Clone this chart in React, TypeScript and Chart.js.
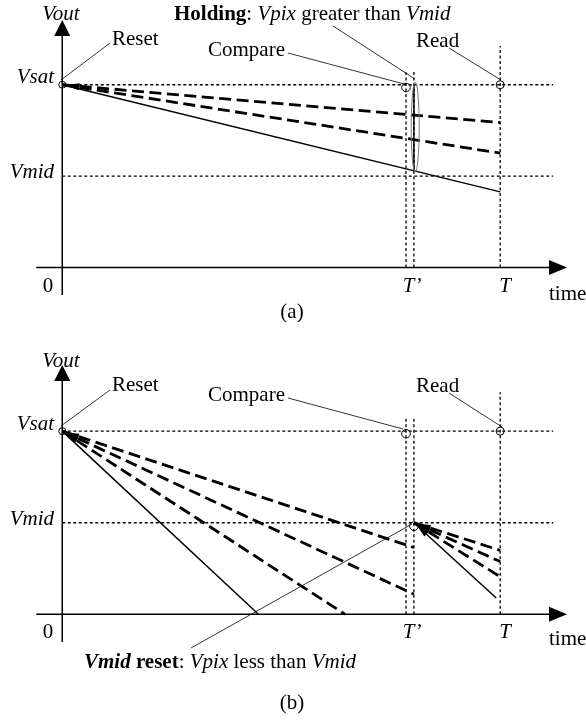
import React, { useEffect, useRef } from "react";
import { Chart, registerables } from "chart.js";
Chart.register(...registerables);

// ---------------- data (time in units of T, voltage in units of Vsat) ----------------
const timeTicks = [0, 0.785, 1]; // 0, T', T
const timeTickLabels = ["0", "T\u2019", "T"];
const holdTime = 0.803; // T' + hold instant
const levelValues = [1, 0.5]; // Vsat, Vmid
const levelLabels = ["Vsat", "Vmid"];

// panel (a): Vpix greater than Vmid -> holding
const aDashedEnd = [0.793, 0.626]; // Vout at T
const aSolidEnd = 0.414; // Vout at T
const aCompareLevel = 0.985;

// panel (b): Vpix less than Vmid -> Vmid reset
const bSolidZeroTime = 0.448;
const bDashedZeroTime = 0.646;
const bDashedAtHold = [0.365, 0.11];
const bResetDashedEnd = [0.349, 0.288, 0.205];
const bResetSolidEnd = [0.991, 0.089];
const bCompareLevel = 0.986;
const bResetCircleLevel = 0.481;

// ---------------- layout / style (not data) ----------------
const W = 586;
const PX_PER_T = 446;
const ORIGIN_X = 58;
const refLineEnd = (558 - ORIGIN_X) / PX_PER_T;
const tPrimeTop = 1.072;
const tTop = 1.212;
const FONT = "'Liberation Serif', 'DejaVu Serif', serif";
const FS = 21;

type Seg = { t: string; b?: boolean; i?: boolean };

function drawRich(ctx: CanvasRenderingContext2D, segs: Seg[], x: number, y: number) {
  let cx = x;
  for (const s of segs) {
    ctx.font = `${s.i ? "italic " : ""}${s.b ? "bold " : ""}${FS}px ${FONT}`;
    ctx.textAlign = "left";
    ctx.fillText(s.t, cx, y);
    cx += ctx.measureText(s.t).width;
  }
}

type Label = { segs: Seg[]; x: number; y: number; align?: "left" | "center" | "right" };
type Leader = [number, number, number, number];

interface PanelCfg {
  height: number;
  ymin: number;
  ymax: number;
  datasets: any[];
  arrowLines: { from: [number, number]; to: [number, number] }[];
  ellipse?: { x: number; y1: number; y2: number };
  labels: Label[];
  leaders: Leader[];
  axisTop: number;
  axisBottom: number;
}

const dotted = (pts: { x: number; y: number }[]) => ({
  data: pts,
  showLine: true,
  borderColor: "#000",
  borderWidth: 1.3,
  borderDash: [3, 2.5],
  pointRadius: 0,
});
const dashed = (pts: { x: number; y: number }[]) => ({
  data: pts,
  showLine: true,
  borderColor: "#000",
  borderWidth: 2.8,
  borderDash: [12, 5.5],
  pointRadius: 0,
});
const solid = (pts: { x: number; y: number }[]) => ({
  data: pts,
  showLine: true,
  borderColor: "#000",
  borderWidth: 1.5,
  pointRadius: 0,
});
const circle = (x: number, y: number, r: number) => ({
  data: [{ x, y }],
  showLine: false,
  pointRadius: r,
  pointBorderWidth: 1,
  pointBorderColor: "#000",
  pointBackgroundColor: "rgba(0,0,0,0)",
});

function referenceSets() {
  const ds: any[] = [];
  levelValues.forEach((v) => ds.push(dotted([{ x: 0, y: v }, { x: refLineEnd, y: v }])));
  ds.push(dotted([{ x: timeTicks[1], y: 0 }, { x: timeTicks[1], y: tPrimeTop }]));
  ds.push(dotted([{ x: holdTime, y: 0 }, { x: holdTime, y: tPrimeTop }]));
  ds.push(dotted([{ x: timeTicks[2], y: 0 }, { x: timeTicks[2], y: tTop }]));
  return ds;
}

const commonLabels = (base: {
  vout: number; vsat: number; vmid: number; ticks: number; time: number;
}): Label[] => [
  { segs: [{ t: "Vout", i: true }], x: 61, y: base.vout, align: "center" },
  { segs: [{ t: levelLabels[0], i: true }], x: 54, y: base.vsat, align: "right" },
  { segs: [{ t: levelLabels[1], i: true }], x: 54, y: base.vmid, align: "right" },
  { segs: [{ t: timeTickLabels[0] }], x: ORIGIN_X - 10, y: base.ticks, align: "center" },
  { segs: [{ t: timeTickLabels[1], i: true }], x: ORIGIN_X + timeTicks[1] * PX_PER_T + 4, y: base.ticks, align: "center" },
  { segs: [{ t: timeTickLabels[2], i: true }], x: ORIGIN_X + timeTicks[2] * PX_PER_T + 1, y: base.ticks, align: "center" },
  { segs: [{ t: "time" }], x: 549, y: base.time },
];

const panelA: PanelCfg = {
  height: 340,
  ymin: -0.3673,
  ymax: 1.4346,
  datasets: [
    ...referenceSets(),
    ...aDashedEnd.map((v) => dashed([{ x: 0, y: 1 }, { x: 1, y: v }])),
    solid([{ x: 0, y: 1 }, { x: 1, y: aSolidEnd }]),
    solid([{ x: holdTime, y: 1 }, { x: holdTime, y: levelValues[1] + 0.03 }]),
    circle(0, 1, 3.5),
    circle(timeTicks[1], aCompareLevel, 4.3),
    circle(timeTicks[2], 1, 4),
  ],
  arrowLines: aDashedEnd.map((v) => ({ from: [0, 1] as [number, number], to: [1, v] as [number, number] })),
  ellipse: { x: holdTime + 0.003, y1: 1.015, y2: 0.522 },
  labels: [
    ...commonLabels({ vout: 20, vsat: 83, vmid: 178, ticks: 292, time: 300 }),
    { segs: [{ t: "Reset" }], x: 112, y: 45 },
    {
      segs: [
        { t: "Holding", b: true },
        { t: ": " },
        { t: "Vpix", i: true },
        { t: " greater than " },
        { t: "Vmid", i: true },
      ],
      x: 174,
      y: 20,
    },
    { segs: [{ t: "Compare" }], x: 208, y: 56 },
    { segs: [{ t: "Read" }], x: 416, y: 47 },
    { segs: [{ t: "(a)" }], x: 292, y: 318, align: "center" },
  ],
  leaders: [
    [110, 43, 61, 80],
    [333, 26, 415, 79],
    [288, 53, 404, 84],
    [449, 48, 501, 80],
  ],
  axisTop: 20,
  axisBottom: 295,
};

const resetPoint = { x: holdTime, y: levelValues[1] };
const panelB: PanelCfg = {
  height: 382,
  ymin: -0.5589,
  ymax: 1.4687,
  datasets: [
    ...referenceSets(),
    solid([{ x: 0, y: 1 }, { x: bSolidZeroTime, y: 0 }]),
    dashed([{ x: 0, y: 1 }, { x: bDashedZeroTime, y: 0 }]),
    ...bDashedAtHold.map((v) => dashed([{ x: 0, y: 1 }, { x: holdTime, y: v }])),
    ...bResetDashedEnd.map((v) => dashed([resetPoint, { x: 1, y: v }])),
    solid([resetPoint, { x: bResetSolidEnd[0], y: bResetSolidEnd[1] }]),
    circle(0, 1, 3.5),
    circle(timeTicks[1], bCompareLevel, 4.3),
    circle(timeTicks[2], 1, 4),
    circle(holdTime, bResetCircleLevel, 4.3),
  ],
  arrowLines: [
    { from: [0, 1], to: [bDashedZeroTime, 0] },
    ...bDashedAtHold.map((v) => ({ from: [0, 1] as [number, number], to: [holdTime, v] as [number, number] })),
    ...bResetDashedEnd.map((v) => ({ from: [resetPoint.x, resetPoint.y] as [number, number], to: [1, v] as [number, number] })),
    { from: [resetPoint.x, resetPoint.y], to: [bResetSolidEnd[0], bResetSolidEnd[1]] },
  ],
  labels: [
    ...commonLabels({ vout: 27, vsat: 90, vmid: 185, ticks: 298, time: 305 }),
    { segs: [{ t: "Reset" }], x: 112, y: 51 },
    { segs: [{ t: "Compare" }], x: 208, y: 61 },
    { segs: [{ t: "Read" }], x: 416, y: 52 },
    {
      segs: [
        { t: "Vmid", b: true, i: true },
        { t: " reset", b: true },
        { t: ": " },
        { t: "Vpix", i: true },
        { t: " less than " },
        { t: "Vmid", i: true },
      ],
      x: 84,
      y: 328,
    },
    { segs: [{ t: "(b)" }], x: 292, y: 369, align: "center" },
  ],
  leaders: [
    [110, 50, 61, 86],
    [288, 58, 403, 89],
    [449, 53, 502, 87],
    [191, 308, 412, 184],
  ],
  axisTop: 25,
  axisBottom: 302,
};

const decorPlugin = {
  id: "decor",
  afterDatasetsDraw(chart: any, _args: any, opts: any) {
    const cfg: PanelCfg = opts.cfg;
    const ctx: CanvasRenderingContext2D = chart.ctx;
    const X = (v: number) => chart.scales.x.getPixelForValue(v);
    const Y = (v: number) => chart.scales.y.getPixelForValue(v);
    ctx.save();
    ctx.fillStyle = "#000";
    ctx.strokeStyle = "#000";

    // arrowheads pointing back to the start of each dashed ramp
    for (const l of cfg.arrowLines) {
      const x0 = X(l.from[0]), y0 = Y(l.from[1]);
      const x1 = X(l.to[0]), y1 = Y(l.to[1]);
      const len = Math.hypot(x1 - x0, y1 - y0);
      const ux = (x1 - x0) / len, uy = (y1 - y0) / len;
      const tx = x0 + ux * 4, ty = y0 + uy * 4;
      const bx = tx + ux * 13, by = ty + uy * 13;
      ctx.beginPath();
      ctx.moveTo(tx, ty);
      ctx.lineTo(bx - uy * 3, by + ux * 3);
      ctx.lineTo(bx + uy * 3, by - ux * 3);
      ctx.closePath();
      ctx.fill();
    }

    // ellipse grouping (panel a)
    if (cfg.ellipse) {
      const e = cfg.ellipse;
      const cx = X(e.x);
      const ya = Y(e.y1), yb = Y(e.y2);
      ctx.beginPath();
      ctx.strokeStyle = "#777";
      ctx.lineWidth = 1;
      ctx.ellipse(cx, (ya + yb) / 2, 4, Math.abs(yb - ya) / 2, 0, 0, Math.PI * 2);
      ctx.stroke();
      ctx.strokeStyle = "#000";
    }

    // axes with arrows
    const ox = X(0), oy = Y(0);
    ctx.lineWidth = 1.5;
    ctx.beginPath();
    ctx.moveTo(ox, cfg.axisTop + 12);
    ctx.lineTo(ox, cfg.axisBottom);
    ctx.moveTo(ox - 26, oy);
    ctx.lineTo(555, oy);
    ctx.stroke();
    ctx.beginPath();
    ctx.moveTo(ox, cfg.axisTop);
    ctx.lineTo(ox - 8, cfg.axisTop + 16);
    ctx.lineTo(ox + 8, cfg.axisTop + 16);
    ctx.closePath();
    ctx.fill();
    ctx.beginPath();
    ctx.moveTo(567, oy);
    ctx.lineTo(549, oy - 7.5);
    ctx.lineTo(549, oy + 7.5);
    ctx.closePath();
    ctx.fill();

    // leader lines
    ctx.lineWidth = 0.8;
    for (const [a, b, c, d] of cfg.leaders) {
      ctx.beginPath();
      ctx.moveTo(a, b);
      ctx.lineTo(c, d);
      ctx.stroke();
    }

    // texts
    ctx.textBaseline = "alphabetic";
    for (const lb of cfg.labels) {
      let w = 0;
      for (const s of lb.segs) {
        ctx.font = `${s.i ? "italic " : ""}${s.b ? "bold " : ""}${FS}px ${FONT}`;
        w += ctx.measureText(s.t).width;
      }
      let x = lb.x;
      if (lb.align === "center") x -= w / 2;
      if (lb.align === "right") x -= w;
      drawRich(ctx, lb.segs, x, lb.y);
    }
    ctx.restore();
  },
};

function Panel({ cfg, top }: { cfg: PanelCfg; top: number }) {
  const ref = useRef<HTMLCanvasElement | null>(null);
  useEffect(() => {
    if (!ref.current) return;
    const chart = new Chart(ref.current, {
      type: "scatter",
      data: { datasets: cfg.datasets },
      options: {
        animation: false,
        responsive: false,
        devicePixelRatio: 1,
        layout: { padding: 0 },
        events: [],
        scales: {
          x: { type: "linear", display: false, min: -ORIGIN_X / PX_PER_T, max: (W - ORIGIN_X) / PX_PER_T },
          y: { type: "linear", display: false, min: cfg.ymin, max: cfg.ymax },
        },
        plugins: {
          legend: { display: false },
          tooltip: { enabled: false },
          decor: { cfg },
        } as any,
      },
      plugins: [decorPlugin],
    });
    return () => chart.destroy();
  }, [cfg]);
  return (
    <canvas
      ref={ref}
      width={W}
      height={cfg.height}
      style={{ position: "absolute", left: 0, top, width: W, height: cfg.height }}
    />
  );
}

export default function App() {
  return (
    <div style={{ position: "absolute", left: 0, top: 0, width: W, height: 722, background: "#fff" }}>
      <Panel cfg={panelA} top={0} />
      <Panel cfg={panelB} top={340} />
    </div>
  );
}
